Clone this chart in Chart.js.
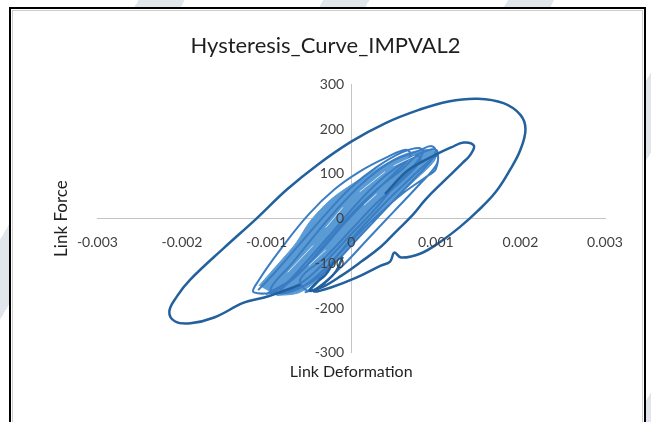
<!DOCTYPE html>
<html>
<head>
<meta charset="utf-8">
<script src="https://cdn.jsdelivr.net/npm/chart.js@4.4.0/dist/chart.umd.min.js"></script>
<style>
    html, body { margin: 0; padding: 0; }
    body {
        width: 651px; height: 422px; overflow: hidden; position: relative;
        background: repeating-linear-gradient(120deg, #ffffff 0px, #ffffff 120px, #e1e6ec 120px, #e1e6ec 160px);
    }
    #marco {
        position: absolute; left: 9px; top: 7px; width: 637px; height: 460px;
        box-sizing: border-box; border: 2px solid #000; background: #fff;
        box-shadow: inset 0 0 0 1px #fff, inset 0 0 0 2px #cdcdcd;
    }
    #grafica { position: absolute; left: 0; top: 0; }
</style>
</head>
<body>
<div id="marco"></div>
<canvas id="grafica" width="651" height="422"></canvas>
<script>
// Ticks de los ejes
const xTicks = [-0.003, -0.002, -0.001, 0, 0.001, 0.002, 0.003];
const xTickLabels = ['-0.003', '-0.002', '-0.001', '0', '0.001', '0.002', '0.003'];
const yTicks = [-300, -200, -100, 0, 100, 200, 300];
const yTickLabels = ['-300', '-200', '-100', '0', '100', '200', '300'];

// Lazo exterior (ciclo mas grande)
const exteriorX = [-0.0006, -0.00092, -0.00104, -0.00127, -0.00162, -0.0019, -0.00208, -0.00215, -0.00206, -0.0019,
    -0.0015, -0.00112, -0.00076, -0.0004, 0, 0.0004, 0.0008, 0.00115, 0.0015, 0.0018,
    0.002, 0.00206, 0.002, 0.00188, 0.00171, 0.00149, 0.00129, 0.00106, 0.00082, 0.00059,
    0.00051, 0.00046, 0.00035, 0.00006, -0.00024, -0.00044, -0.00032, -0.00018, -0.0001];
const exteriorY = [-148, -170, -177, -188, -221, -234, -230, -208, -174, -136,
    -65, 0, 65, 120, 172, 213, 243, 262, 268, 258,
    232, 200, 154, 110, 60, 16, -18, -51, -78, -87,
    -76, -96, -105, -132, -154, -163, -145, -118, -85];

// Segundo lazo
const segundoX = [0.0004, 0.00065, 0.00082, 0.001, 0.00118, 0.00133, 0.00145, 0.00141, 0.00132, 0.00108,
    0.00088, 0.00073, 0.00053, 0.00035, 0.00012, -0.00012, -0.00035, -0.00049, -0.00041, -0.0003, -0.0002];
const segundoY = [55, 105, 125, 143, 159, 170, 163, 143, 125, 81,
    43, 9, -29, -63, -96, -128, -154, -161, -143, -125, -95];

// Ciclos pequeños (la mancha central)
const ciclosX = [
    -0.0011, -0.0009, -0.0006, -0.0003, 0, 0.0003, 0.0006, 0.0008, 0.00085, 0.0007, 0.0005, 0.0003, 0, -0.0003, -0.0006, -0.0009,
    -0.00095, -0.0007, -0.0004, -0.0001, 0.0002, 0.0005, 0.0008, 0.00095, 0.001, 0.0009, 0.0007, 0.0004, 0.0001, -0.0002, -0.0005, -0.0008,
    -0.00115, -0.0011, -0.0008, -0.0005, -0.0002, 0.0001, 0.0004, 0.00065, 0.0007, 0.0005, 0.0002, -0.0001, -0.0004, -0.0007, -0.001,
    -0.0008, -0.0005, -0.0002, 0.0001, 0.0004, 0.0007, 0.00095, 0.00102, 0.001, 0.0009, 0.0006, 0.0003, 0, -0.0003, -0.0006, -0.00085,
    -0.0006, -0.0003, 0, 0.0003, 0.0006, 0.00078, 0.00082, 0.0006, 0.0003, 0, -0.0003, -0.0006,
    -0.0005, -0.0002, 0.0001, 0.0004, 0.0007, 0.0009, 0.00102, 0.001, 0.0008, 0.0005, 0.0002, -0.0001, -0.0004, -0.00055];
const ciclosY = [
    -160, -120, -55, 10, 70, 115, 148, 158, 148, 110, 70, 25, -35, -95, -145, -165,
    -155, -100, -30, 35, 90, 130, 152, 162, 150, 120, 80, 20, -40, -100, -145, -162,
    -165, -140, -60, 10, 65, 105, 135, 154, 140, 100, 45, -15, -80, -135, -168,
    -150, -90, -25, 40, 95, 135, 155, 150, 110, 95, 55, 5, -50, -110, -155, -165,
    -120, -55, 10, 65, 110, 140, 130, 85, 35, -25, -85, -135,
    -160, -90, -25, 35, 90, 125, 140, 118, 75, 15, -45, -105, -155, -165];

// Contorno relleno de la mancha
const nucleoX = [-0.00109, -0.00082, -0.00065, -0.00049, -0.00024, 0.00006, 0.00035, 0.00062, 0.00086, 0.001,
    0.00098, 0.00076, 0.00053, 0.00029, 0.00008, -0.00015, -0.00039, -0.00062, -0.00088];
const nucleoY = [-150, -92, -54, -7, 43, 83, 116, 143, 154, 150,
    128, 87, 47, 4, -43, -92, -136, -166, -172];

// Rayas blancas dentro de la mancha (null = corte)
const rayasX = [-0.00075, -0.00045, null, -0.0003, -0.0001, null, 0.0001, 0.0004, null, 0.0005, 0.00075, null, -0.0005, -0.0003, null, 0.00015, 0.0003];
const rayasY = [-120, -60, null, -20, 25, null, 60, 105, null, 118, 140, null, -105, -70, null, 30, 55];

function puntos(xs, ys) {
    return xs.map((x, i) => ({ x: x, y: ys[i] }));
}

const fuenteTick = { family: 'Lato', size: 14 };
const fuenteTitulo = { family: 'Lato', size: 16 };

new Chart(document.getElementById('grafica').getContext('2d'), {
    type: 'scatter',
    data: {
        datasets: [
            { label: 'Exterior', data: puntos(exteriorX, exteriorY), showLine: true, borderColor: '#22609e', borderWidth: 2.5, pointRadius: 0, tension: 0.4, order: 1 },
            { label: 'Segundo', data: puntos(segundoX, segundoY), showLine: true, borderColor: '#22609e', borderWidth: 2.5, pointRadius: 0, tension: 0.4, order: 2 },
            { label: 'Rayas', data: puntos(rayasX, rayasY), showLine: true, borderColor: 'rgba(255,255,255,0.75)', borderWidth: 1, pointRadius: 0, tension: 0, spanGaps: false, order: 3 },
            { label: 'Ciclos', data: puntos(ciclosX, ciclosY), showLine: true, borderColor: '#3a7dc2', borderWidth: 2, pointRadius: 0, tension: 0.4, order: 4 },
            { label: 'Nucleo', data: puntos(nucleoX, nucleoY), showLine: true, borderColor: '#5b9bd5', backgroundColor: '#5b9bd5', borderWidth: 1, fill: 'shape', pointRadius: 0, tension: 0.3, order: 5 }
        ]
    },
    options: {
        responsive: false,
        animation: false,
        layout: { padding: 0 },
        plugins: {
            legend: { display: false },
            tooltip: { enabled: false },
            title: {
                display: true,
                text: 'Hysteresis_Curve_IMPVAL2',
                color: '#1f1f1f',
                font: { family: 'Lato', size: 22, weight: 'normal' },
                padding: { top: 33, bottom: 25 }
            }
        },
        scales: {
            x: {
                type: 'linear', position: { y: 0 }, min: -0.003, max: 0.003,
                afterBuildTicks: s => { s.ticks = xTicks.map(v => ({ value: v })); },
                ticks: { callback: (v, i) => xTickLabels[i], color: '#404040', font: fuenteTick, padding: 15, z: 1, maxRotation: 0, autoSkip: false },
                grid: { display: false, drawTicks: false },
                border: { display: true, color: '#c4c4c4', width: 1 }
            },
            y: {
                type: 'linear', position: { x: 0 }, min: -300, max: 300,
                afterBuildTicks: s => { s.ticks = yTicks.map(v => ({ value: v })); },
                // el eje centrado no aplica padding, se separa con un espacio
                ticks: { callback: (v, i) => yTickLabels[i] + '\u2002', color: '#404040', font: fuenteTick, z: 1, autoSkip: false },
                grid: { display: false, drawTicks: false },
                border: { display: true, color: '#c4c4c4', width: 1 }
            },
            xTitulo: {
                type: 'linear', axis: 'x', position: 'bottom', display: true,
                ticks: { display: false }, grid: { display: false, drawTicks: false }, border: { display: false },
                title: { display: true, text: 'Link Deformation', color: '#1f1f1f', font: fuenteTitulo, padding: { top: 9, bottom: 41 } }
            },
            yTitulo: {
                type: 'linear', axis: 'y', position: 'left', display: true,
                ticks: { display: false }, grid: { display: false, drawTicks: false }, border: { display: false },
                title: { display: true, text: 'Link Force', color: '#1f1f1f', font: { family: 'Lato', size: 17 }, padding: { top: 51, bottom: 26 } }
            },
            yDerecha: {
                type: 'linear', axis: 'y', position: 'right', display: true,
                ticks: { display: false }, grid: { display: false, drawTicks: false }, border: { display: false },
                afterFit: s => { s.width = 46; }
            }
        }
    }
});
</script>
</body>
</html>
